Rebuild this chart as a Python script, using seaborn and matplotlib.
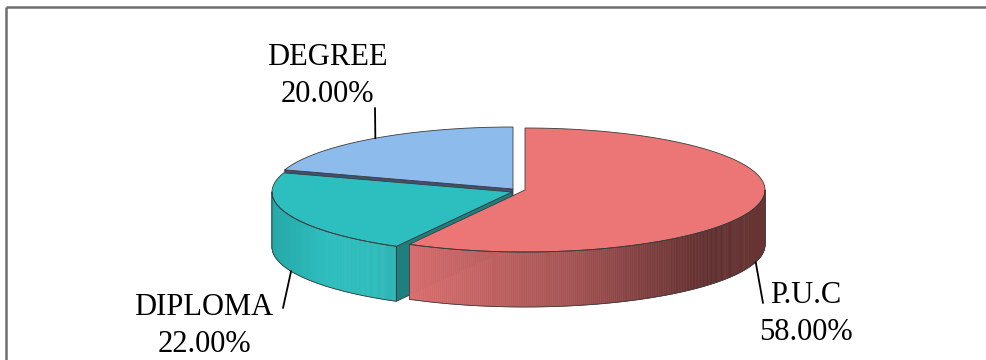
import numpy as np
import matplotlib
matplotlib.use("Agg")
import matplotlib.pyplot as plt
from matplotlib.patches import Polygon
from matplotlib.colors import to_rgb
import seaborn as sns

# --- data -------------------------------------------------------------
categories = ["P.U.C", "DIPLOMA", "DEGREE"]
shares = [58.0, 22.0, 20.0]          # percent

# --- styling ----------------------------------------------------------
top_colors = ["#EC7676", "#2DBFBF", "#8DBBEC"]
# wall gradient stops (position along the visible wall, colour)
wall_stops = [
    [(0.0, "#DA6E6E"), (0.45, "#A65454"), (0.85, "#5F2E2E"), (1.0, "#693434")],
    [(0.0, "#26A8A8"), (0.45, "#2EBEBE"), (0.85, "#2DBBBB"), (1.0, "#29B2B2")],
    [(0.0, "#6E97C6"), (1.0, "#5A80AC")],
]
face_colors = ["#6A3030", "#1E7F7F", "#3D5270"]
edge_col = "#3C3C3C"

sns.set_theme(style="white")
plt.rcParams["font.family"] = ["Liberation Serif", "DejaVu Serif"]

W, H = 987, 360
fig = plt.figure(figsize=(W / 100, H / 100), dpi=100)
ax = fig.add_axes([0, 0, 1, 1])
ax.set_xlim(0, W)
ax.set_ylim(H, 0)
ax.axis("off")

# pie geometry (pixel space of the axes)
cx, cy = 512.0, 189.0
rx, ry = 240.0, 62.0
depth = 55.0
offsets = [(13.0, 1.0), (0.0, 3.0), (1.0, 0.0)]   # slice separation


def rim(t, c, down=0.0):
    t = np.radians(t)
    return np.column_stack([c[0] + rx * np.cos(t), c[1] - ry * np.sin(t) + down])


def grad_color(stops, u):
    for (u0, c0), (u1, c1) in zip(stops[:-1], stops[1:]):
        if u <= u1:
            f = 0 if u1 == u0 else (u - u0) / (u1 - u0)
            a, b = np.array(to_rgb(c0)), np.array(to_rgb(c1))
            return a + (b - a) * f
    return np.array(to_rgb(stops[-1][1]))


# angles: start at 12 o'clock, run clockwise
starts, ends = [], []
a = 90.0
for s in shares:
    starts.append(a)
    a -= s * 3.6
    ends.append(a)

centers = [(cx + dx, cy + dy) for dx, dy in offsets]


def draw_top(i):
    c = centers[i]
    t = np.linspace(starts[i], ends[i], 200)
    pts = np.vstack([[c], rim(t, c)])
    ax.add_patch(Polygon(pts, closed=True, fc=top_colors[i], ec=edge_col,
                         lw=0.6, joinstyle="round"))


def draw_face(i, ang):
    c = centers[i]
    p = rim([ang], c)[0]
    pts = [c, p, (p[0], p[1] + depth), (c[0], c[1] + depth)]
    ax.add_patch(Polygon(pts, closed=True, fc=face_colors[i], ec=edge_col, lw=0.6))


def draw_wall(i):
    c = centers[i]
    lo, hi = ends[i], starts[i]
    # front half of the rim lies between 180 and 360 degrees
    lo_n, hi_n = lo % 360, (lo % 360) + (hi - lo)
    a0, a1 = max(lo_n, 180.0), min(hi_n, 360.0)
    if a1 <= a0:
        return
    t = np.linspace(a0, a1, 240)
    top = rim(t, c)
    bot = rim(t, c, depth)
    xs = top[:, 0]
    x0, x1 = xs.min(), xs.max()
    for k in range(len(t) - 1):
        u = ((xs[k] + xs[k + 1]) / 2 - x0) / (x1 - x0)
        col = grad_color(wall_stops[i], u)
        quad = [top[k], top[k + 1], bot[k + 1], bot[k]]
        ax.add_patch(Polygon(quad, closed=True, fc=col, ec=col, lw=0.4))
    outline = np.vstack([top, bot[::-1], top[:1]])
    ax.plot(outline[:, 0], outline[:, 1], color=edge_col, lw=0.6)


# back to front; the cut face at each slice's leading edge faces the viewer
draw_face(2, starts[2])
draw_top(2)
draw_wall(1)
draw_face(1, starts[1])
draw_top(1)
draw_wall(0)
draw_top(0)

# labels with leader lines
label_specs = [
    # (slice, anchor angle, on bottom rim?, line end, text centre)
    (0, -16.0, True, (763, 303), (806, 314)),
    (1, 203.0, True, (283, 308), (204, 326)),
    (2, 125.0, False, (375, 108), (327, 76)),
]
for i, ang, lower, end, tc in label_specs:
    p = rim([ang], centers[i], depth if lower else 0.0)[0]
    ax.plot([p[0], end[0]], [p[1], end[1]], color="black", lw=1.3)
    ax.text(tc[0], tc[1], f"{categories[i]}\n{shares[i]:.2f}%", ha="center",
            va="center", fontsize=22, color="black", linespacing=1.32)

# chart frame
ax.plot([6, W], [7, 7], color="#6E6E6E", lw=1.8, solid_capstyle="butt")
ax.plot([6, 6], [7, H], color="#6E6E6E", lw=1.8, solid_capstyle="butt")

fig.savefig("out.png", dpi=100, facecolor="white")
